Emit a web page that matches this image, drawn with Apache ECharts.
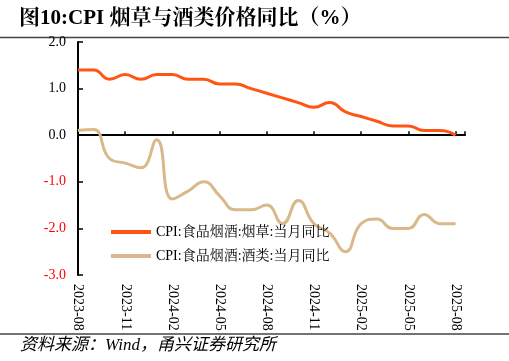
<!DOCTYPE html>
<html>
<head>
<meta charset="utf-8">
<script src="https://cdn.jsdelivr.net/npm/echarts@6/dist/echarts.min.js"></script>
<style>html,body{margin:0;padding:0;background:#fff}#c{width:509px;height:361px}</style>
</head>
<body>
<div id="c"></div>
<script>
const categories = ['2023-08','2023-09','2023-10','2023-11','2023-12','2024-01','2024-02','2024-03','2024-04','2024-05','2024-06','2024-07','2024-08','2024-09','2024-10','2024-11','2024-12','2025-01','2025-02','2025-03','2025-04','2025-05','2025-06','2025-07','2025-08'];
const tobacco = [1.4,1.4,1.2,1.3,1.2,1.3,1.3,1.2,1.2,1.1,1.1,1.0,0.9,0.8,0.7,0.6,0.7,0.5,0.4,0.3,0.2,0.2,0.1,0.1,0.0];
const liquor = [0.1,0.12,-0.5,-0.6,-0.7,-0.1,-1.37,-1.2,-1.0,-1.3,-1.6,-1.6,-1.5,-1.9,-1.4,-1.9,-2.1,-2.5,-1.9,-1.8,-2.0,-2.0,-1.7,-1.9,-1.9];
const seriesNames = ['CPI:食品烟酒:烟草:当月同比','CPI:食品烟酒:酒类:当月同比'];
const yTicks = [-3, -2, -1, 0, 1, 2];

const serif = "'Liberation Serif','Times New Roman','Noto Serif CJK SC','Noto Sans CJK SC',serif";
const chart = echarts.init(document.getElementById('c'), null, {renderer: 'canvas'});
const xMax = 24.6;
chart.setOption({
  animation: false,
  backgroundColor: '#fff',
  title: {
    text: '图10:CPI 烟草与酒类价格同比（%）',
    left: 14, top: 3,
    textStyle: {fontFamily: serif, fontSize: 21, fontWeight: 'bold', color: '#000'}
  },
  graphic: [
    {type: 'line', shape: {x1: 0, y1: 37.5, x2: 509, y2: 37.5}, style: {stroke: '#444', lineWidth: 1.5}},
    {type: 'line', shape: {x1: 0, y1: 334, x2: 509, y2: 334}, style: {stroke: '#444', lineWidth: 1.5}},
    {type: 'text', left: 20, top: 337, style: {text: '资料来源：Wind，甬兴证券研究所', font: "italic 17px 'Liberation Serif','Noto Sans CJK SC',serif", fill: '#000'}}
  ],
  legend: {
    orient: 'vertical', left: 106, top: 220, itemGap: 10,
    icon: 'rect', itemWidth: 40, itemHeight: 4,
    textStyle: {fontFamily: serif, fontSize: 14, color: '#000'},
    data: seriesNames
  },
  grid: {left: 78, right: 44, top: 42, bottom: 86},
  xAxis: [
    {
      type: 'value', min: 0, max: xMax, interval: 3, position: 'bottom',
      axisLine: {show: false, onZero: false}, axisTick: {show: false}, splitLine: {show: false},
      axisLabel: {
        rotate: -90, margin: 9, fontFamily: serif, fontSize: 14, color: '#000',
        formatter: v => (Number.isInteger(v) && categories[v]) ? categories[v] : ''
      }
    },
    {
      type: 'value', min: 0, max: xMax, interval: 3, position: 'bottom',
      axisLine: {show: true, onZero: true, lineStyle: {color: '#000', width: 2}},
      axisTick: {show: true, inside: true, length: 4, lineStyle: {color: '#000', width: 1.5}},
      axisLabel: {show: false}, splitLine: {show: false}
    }
  ],
  yAxis: {
    type: 'value', min: yTicks[0], max: yTicks[yTicks.length - 1], interval: 1,
    axisLine: {show: true, lineStyle: {color: '#000', width: 2}},
    axisTick: {show: true, inside: true, length: 5, lineStyle: {color: '#000', width: 1.5}},
    splitLine: {show: false},
    axisLabel: {
      margin: 12, fontFamily: serif, fontSize: 14,
      formatter: v => v.toFixed(1),
      color: v => (Number(v) < 0 ? '#FF0000' : '#000')
    }
  },
  series: [
    {
      name: seriesNames[0], type: 'line', xAxisIndex: 0, smooth: 0.5, symbol: 'none',
      lineStyle: {color: '#FF5513', width: 3}, itemStyle: {color: '#FF5513'},
      data: tobacco.map((v, i) => [i, v])
    },
    {
      name: seriesNames[1], type: 'line', xAxisIndex: 0, smooth: 0.5, symbol: 'none',
      lineStyle: {color: '#D9B98C', width: 3}, itemStyle: {color: '#D9B98C'},
      data: liquor.map((v, i) => [i, v])
    }
  ]
});
</script>
</body>
</html>
